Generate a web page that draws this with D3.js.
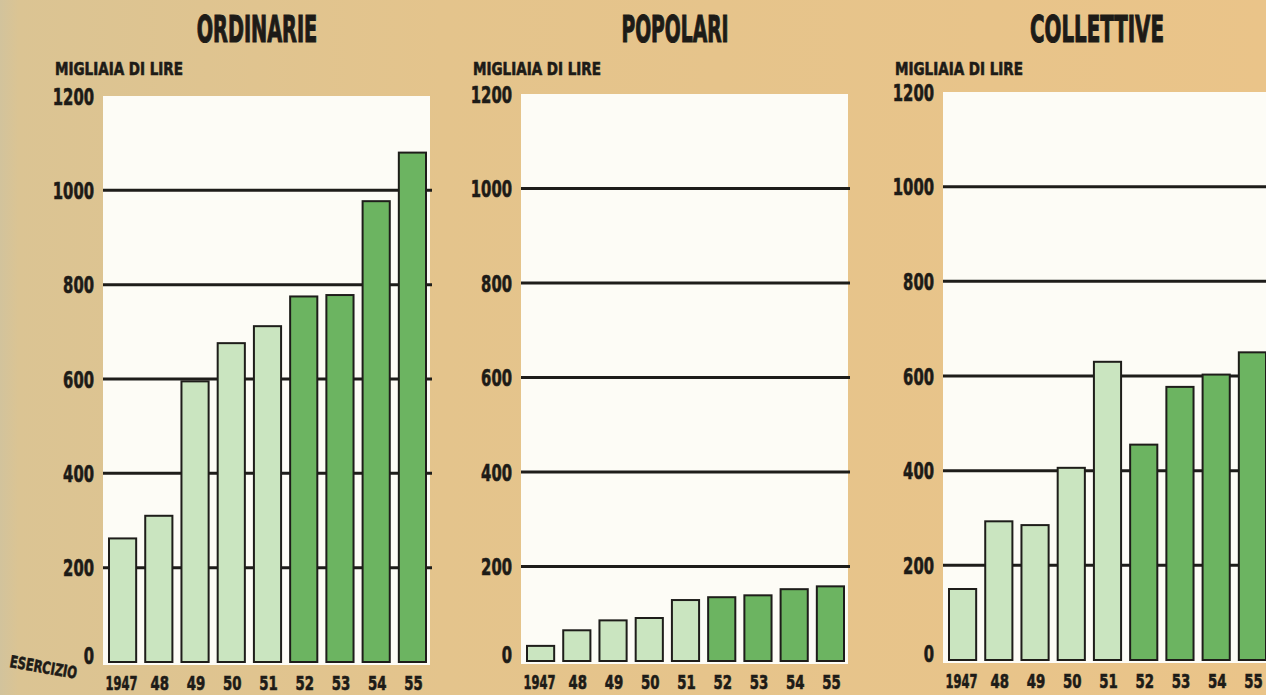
<!DOCTYPE html>
<html>
<head>
<meta charset="utf-8">
<script src="https://cdn.jsdelivr.net/npm/d3@7"></script>
<style>
  html, body { margin: 0; padding: 0; overflow: hidden; background: #e3c48d; }
  text {
    font-family: "Liberation Sans Narrow", "DejaVu Sans Condensed", "Roboto", sans-serif;
    font-weight: bold;
    fill: #1d1b17;
    stroke: #1d1b17;
    stroke-width: 0.6px;
  }
  text.title { stroke-width: 1.1px; }
</style>
</head>
<body>
<script>
// esercizi (anni) in ascissa
const anni = ["1947", "48", "49", "50", "51", "52", "53", "54", "55"];
// 0 = esercizi 1947-51 (verde chiaro), 1 = esercizi 1952-55 (verde scuro)
const periodo = [0, 0, 0, 0, 0, 1, 1, 1, 1];

const titoli = ["ORDINARIE", "POPOLARI", "COLLETTIVE"];

// valori in migliaia di lire
const ordinarie = [262, 310, 595, 676, 712, 775, 778, 977, 1080];
const popolari = [32, 65, 86, 91, 129, 135, 139, 152, 158];
const collettive = [150, 293, 285, 406, 630, 455, 577, 603, 650];

const yTicks = [0, 200, 400, 600, 800, 1000, 1200];
const yLabel = "MIGLIAIA DI LIRE";
const xLabel = "ESERCIZIO";

(function() {

    const width = 1266;
    const height = 695;

    // layout of the three panels (scan is slightly skewed, so bottoms differ a bit)
    const panelX = [103, 521, 943];
    const panelW = 327;
    const panelBottom = [662, 661, 660];
    const panelTop = [96, 94, 92];

    const serie = [ordinarie, popolari, collettive];

    let color = d3.scaleOrdinal()
        .domain([0, 1])
        .range(["#cae5c0", "#6cb461"]);

    let svg = d3.select("body")
        .append("svg")
        .attr("width", width)
        .attr("height", height);

    // paper background
    let grad = svg.append("defs")
        .append("linearGradient")
        .attr("id", "paper")
        .attr("x1", "0").attr("x2", "1").attr("y1", "0").attr("y2", "0");
    grad.append("stop").attr("offset", "0").attr("stop-color", "#d2c39c");
    grad.append("stop").attr("offset", "0.015").attr("stop-color", "#dbc493");
    grad.append("stop").attr("offset", "0.35").attr("stop-color", "#e4c48c");
    grad.append("stop").attr("offset", "1").attr("stop-color", "#eac489");

    svg.append("rect")
        .attr("width", width)
        .attr("height", height)
        .attr("fill", "url(#paper)");

    for (let i = 0; i < serie.length; i++) {

        let x0 = panelX[i];
        let values = serie[i];
        let data = anni.map((a, j) => ({ anno: a, valore: values[j], periodo: periodo[j] }));

        let y = d3.scaleLinear()
            .domain([0, 1200])
            .range([panelBottom[i], panelTop[i]]);

        let x = d3.scaleBand()
            .domain(anni)
            .range([x0 + 6, x0 + panelW - 4])
            .paddingInner(0.25)
            .paddingOuter(0);

        let g = svg.append("g").attr("class", "panel");

        // white plotting area
        g.append("rect")
            .attr("x", x0)
            .attr("y", y(1200))
            .attr("width", panelW)
            .attr("height", y(0) - y(1200) + 3)
            .attr("fill", "#fdfcf6");

        // grid lines (drawn behind the bars)
        g.selectAll("line.grid")
            .data(yTicks.filter(d => d > 0 && d < 1200))
            .enter()
            .append("line")
            .attr("class", "grid")
            .attr("x1", x0)
            .attr("x2", x0 + panelW + 2)
            .attr("y1", d => y(d))
            .attr("y2", d => y(d))
            .attr("stroke", "#1e1d1a")
            .attr("stroke-width", 3);

        // bars
        g.selectAll("rect.bar")
            .data(data)
            .enter()
            .append("rect")
            .attr("class", "bar")
            .attr("x", d => x(d.anno))
            .attr("y", d => y(d.valore))
            .attr("width", x.bandwidth())
            .attr("height", d => y(0) - y(d.valore))
            .attr("fill", d => color(d.periodo))
            .attr("stroke", "#1e1d1a")
            .attr("stroke-width", 2);

        // y axis labels
        let yAxis = g.append("g")
            .attr("transform", "translate(" + x0 + ",0)")
            .call(d3.axisLeft(y).tickValues(yTicks).tickFormat(d3.format("d")).tickSize(0).tickPadding(9));
        yAxis.select(".domain").remove();
        yAxis.selectAll("text")
            .attr("font-size", 23)
            .attr("textLength", d => String(d).length * 10.3)
            .attr("lengthAdjust", "spacingAndGlyphs")
            .attr("dy", d => d === 0 ? "0.05em" : "0.36em");

        // x axis labels (esercizi), condensed horizontally
        let xAxis = g.append("g")
            .attr("transform", "translate(0," + y(0) + ")")
            .call(d3.axisBottom(x).tickSize(0));
        xAxis.select(".domain").remove();
        xAxis.selectAll("text")
            .attr("font-size", 20)
            .attr("transform", d => "translate(" + (d.length === 4 ? -1 : 1) + ",0) scale(" + (d.length === 4 ? 0.64 : 0.74) + ",1)")
            .attr("y", 28)
            .attr("dy", null);

        // unit label
        g.append("text")
            .attr("x", x0 - 48)
            .attr("y", 75)
            .attr("font-size", 17.5)
            .attr("textLength", 128)
            .attr("lengthAdjust", "spacingAndGlyphs")
            .text(yLabel);

        // title
        g.append("text")
            .attr("class", "title")
            .attr("x", x0 + 154)
            .attr("y", 42)
            .attr("text-anchor", "middle")
            .attr("font-size", 37)
            .attr("textLength", titoli[i].length * 13.4)
            .attr("lengthAdjust", "spacingAndGlyphs")
            .text(titoli[i]);
    }

    svg.append("text")
        .attr("transform", "translate(9,667) rotate(10)")
        .attr("font-size", 16.5)
        .attr("textLength", 68)
        .attr("lengthAdjust", "spacingAndGlyphs")
        .text(xLabel);

})();
</script>
</body>
</html>
